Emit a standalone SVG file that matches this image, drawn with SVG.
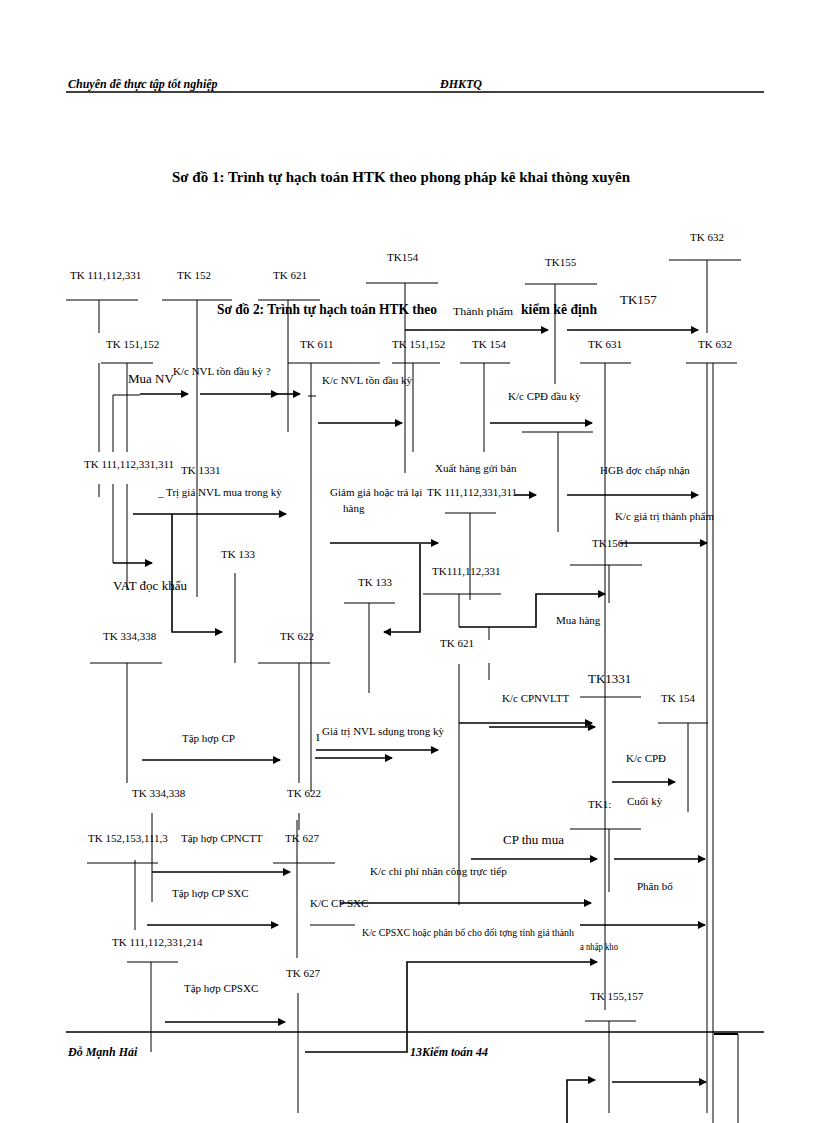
<svg xmlns="http://www.w3.org/2000/svg" width="816" height="1123" viewBox="0 0 816 1123">
<style>
text{font-family:"Liberation Serif",serif;font-size:11px;fill:#000}
.b{font-weight:bold;font-size:15px}
.h{font-style:italic;font-weight:bold;font-size:12px}
.l{font-size:13px}
line,polyline{stroke:#000;stroke-width:1;fill:none}
.a{stroke-width:1.6;marker-end:url(#ar)}
</style>
<defs><marker id="ar" markerWidth="8" markerHeight="8" refX="7" refY="4" orient="auto" markerUnits="userSpaceOnUse"><path d="M0,0 L8,4 L0,8 Z" fill="#000"/></marker></defs>
<rect width="816" height="1123" fill="#fff"/>
<g id="header">
<text x="68" y="88" class="h">Chuyên đề thực tập tốt nghiệp</text>
<text x="440" y="88" class="h">ĐHKTQ</text>
<line x1="66" y1="92" x2="764" y2="92" style="stroke-width:1.5"/>
<text x="172" y="182" class="b" textLength="458" lengthAdjust="spacingAndGlyphs">Sơ đồ 1: Trình tự hạch toán HTK theo phong   pháp kê khai thòng   xuyên</text>
<text x="217" y="314" class="b" textLength="220" lengthAdjust="spacingAndGlyphs">Sơ đồ 2: Trình tự hạch toán HTK theo</text>
<text x="521" y="314" class="b" textLength="76" lengthAdjust="spacingAndGlyphs">kiểm kê định</text>
</g>
<g id="footer">
<line x1="66" y1="1032" x2="764" y2="1032" style="stroke-width:1.5"/>
<text x="68" y="1056" class="h">Đỗ Mạnh Hải</text>
<text x="410" y="1056" class="h">13Kiểm toán 44</text>
</g>
<g id="accounts">
<g id="tk111a"><text x="70" y="279">TK 111,112,331</text><line x1="66" y1="300" x2="138" y2="300"/><line x1="99" y1="300" x2="99" y2="333"/></g>
<g id="tk152"><text x="177" y="279">TK 152</text><line x1="162" y1="300" x2="232" y2="300"/><line x1="197" y1="300" x2="197" y2="597"/></g>
<g id="tk621a"><text x="273" y="279">TK 621</text><line x1="258" y1="300" x2="320" y2="300"/><line x1="288" y1="300" x2="288" y2="432"/></g>
<g id="tk154a"><text x="387" y="261">TK154</text><line x1="366" y1="283" x2="438" y2="283"/><line x1="405" y1="283" x2="405" y2="473"/></g>
<g id="tk155"><text x="545" y="266">TK155</text><line x1="525" y1="284" x2="597" y2="284"/><line x1="555" y1="284" x2="555" y2="384"/></g>
<g id="tk157"><text x="620" y="304" class="l">TK157</text></g>
<g id="tk632a"><text x="690" y="241">TK 632</text><line x1="669" y1="260" x2="741" y2="260"/><line x1="707" y1="260" x2="707" y2="333"/></g>
<g id="tk151a"><text x="106" y="348">TK 151,152</text><line x1="101" y1="363" x2="153" y2="363"/><line x1="99" y1="363" x2="99" y2="452"/><line x1="127" y1="363" x2="127" y2="452"/></g>
<g id="tk611"><text x="300" y="348">TK 611</text><line x1="288" y1="363" x2="380" y2="363"/><line x1="311" y1="363" x2="311" y2="792"/></g>
<g id="tk151b"><text x="392" y="348">TK 151,152</text><line x1="392" y1="363" x2="440" y2="363"/><line x1="413" y1="363" x2="413" y2="452"/></g>
<g id="tk154b"><text x="472" y="348">TK 154</text><line x1="460" y1="363" x2="510" y2="363"/><line x1="484" y1="363" x2="484" y2="452"/></g>
<g id="tk157b"><line x1="522" y1="432" x2="593" y2="432"/><line x1="558" y1="432" x2="558" y2="532"/></g>
<g id="tk631"><text x="588" y="348">TK 631</text><line x1="580" y1="363" x2="631" y2="363"/><line x1="605" y1="363" x2="605" y2="1010"/></g>
<g id="tk632b"><text x="698" y="348">TK 632</text><line x1="686" y1="363" x2="737" y2="363"/><line x1="707" y1="363" x2="707" y2="1113"/><line x1="713" y1="363" x2="713" y2="1123"/></g>
<g id="tk111b"><text x="84" y="468">TK 111,112,331,311</text><line x1="99" y1="484" x2="99" y2="497"/><line x1="113" y1="484" x2="113" y2="563"/><line x1="127" y1="484" x2="127" y2="590"/></g>
<g id="tk1331a"><text x="181" y="474">TK 1331</text></g>
<g id="tk133a"><text x="221" y="558">TK 133</text><line x1="235" y1="573" x2="235" y2="663"/></g>
<g id="tk111c"><text x="427" y="496">TK 111,112,331,311</text><line x1="445" y1="513" x2="496" y2="513"/><line x1="470" y1="513" x2="470" y2="600"/></g>
<g id="tk1561"><text x="592" y="547">TK1561</text><line x1="570" y1="565" x2="642" y2="565"/><line x1="609" y1="565" x2="609" y2="603"/></g>
<g id="tk133b"><text x="358" y="586">TK 133</text><line x1="344" y1="603" x2="395" y2="603"/><line x1="369" y1="603" x2="369" y2="693"/></g>
<g id="tk111d"><text x="432" y="575">TK111,112,331</text><line x1="423" y1="594" x2="501" y2="594"/><line x1="459" y1="594" x2="459" y2="627"/></g>
<g id="tk621b"><text x="440" y="647">TK 621</text><line x1="459" y1="664" x2="459" y2="905"/><line x1="489" y1="627" x2="489" y2="640"/><line x1="489" y1="663" x2="489" y2="680"/></g>
<g id="tk1331b"><text x="588" y="683" class="l">TK1331</text><line x1="580" y1="697" x2="641" y2="697"/></g>
<g id="tk154c"><text x="661" y="702">TK 154</text><line x1="658" y1="723" x2="708" y2="723"/><line x1="688" y1="723" x2="688" y2="812"/></g>
<g id="tk1x"><text x="588" y="808">TK1:</text><line x1="570" y1="829" x2="641" y2="829"/><line x1="609" y1="829" x2="609" y2="892"/></g>
<g id="tk334a"><text x="103" y="640">TK 334,338</text><line x1="90" y1="663" x2="162" y2="663"/><line x1="127" y1="663" x2="127" y2="783"/></g>
<g id="tk622a"><text x="280" y="640">TK 622</text><line x1="258" y1="663" x2="330" y2="663"/><line x1="299" y1="663" x2="299" y2="783"/></g>
<g id="tk334b"><text x="132" y="797">TK 334,338</text><line x1="152" y1="813" x2="152" y2="830"/></g>
<g id="tk622b"><text x="287" y="797">TK 622</text><line x1="299" y1="813" x2="299" y2="830"/></g>
<g id="tk152c"><text x="88" y="842">TK 152,153,111,3</text><line x1="87" y1="863" x2="158" y2="863"/><line x1="135" y1="860" x2="135" y2="930"/><line x1="152" y1="830" x2="152" y2="902"/></g>
<g id="tk627a"><text x="285" y="842">TK 627</text><line x1="273" y1="863" x2="335" y2="863"/><line x1="297" y1="820" x2="297" y2="958"/></g>
<g id="tk111e"><text x="112" y="946">TK 111,112,331,214</text><line x1="127" y1="962" x2="178" y2="962"/><line x1="151" y1="962" x2="151" y2="1052"/></g>
<g id="tk627b"><text x="286" y="977">TK 627</text><line x1="298" y1="993" x2="298" y2="1113"/></g>
<g id="tk155157"><text x="590" y="1000">TK 155,157</text><line x1="585" y1="1021" x2="636" y2="1021"/><line x1="609" y1="1021" x2="609" y2="1113"/></g>
<g id="tkright"><line x1="738" y1="1034" x2="738" y2="1123"/><line x1="714" y1="1034" x2="738" y2="1034" style="stroke-width:2"/></g>
</g>
<g id="connectors">
<polyline class="a" points="405,330 548,330"/>
<line class="a" x1="567" y1="330" x2="698" y2="330"/>
<line class="a" x1="140" y1="394" x2="188" y2="394"/>
<line class="a" x1="200" y1="394" x2="278" y2="394"/>
<line class="a" x1="278" y1="394" x2="300" y2="394"/>
<polyline points="113,452 113,395 140,395"/>
<line x1="308" y1="396" x2="316" y2="396"/>
<line class="a" x1="318" y1="423" x2="402" y2="423"/>
<line class="a" x1="490" y1="423" x2="592" y2="423"/>
<line class="a" x1="133" y1="514" x2="286" y2="514"/>
<polyline class="a" points="172,514 172,632 222,632"/>
<line class="a" x1="113" y1="563" x2="152" y2="563"/>
<line class="a" x1="330" y1="543" x2="438" y2="543"/>
<line class="a" x1="515" y1="495" x2="536" y2="495"/>
<line class="a" x1="567" y1="495" x2="698" y2="495"/>
<line class="a" x1="620" y1="543" x2="707" y2="543"/>
<polyline class="a" points="420,544 420,632 384,632"/>
<polyline class="a" points="459,627 536,627 536,594 605,594"/>
<line class="a" x1="459" y1="723" x2="592" y2="723"/>
<line class="a" x1="489" y1="727" x2="595" y2="727"/>
<line class="a" x1="612" y1="782" x2="675" y2="782"/>
<line class="a" x1="142" y1="760" x2="280" y2="760"/>
<line class="a" x1="316" y1="750" x2="438" y2="750"/>
<line class="a" x1="315" y1="758" x2="392" y2="758"/>
<line class="a" x1="152" y1="872" x2="290" y2="872"/>
<line class="a" x1="471" y1="859" x2="597" y2="859"/>
<line class="a" x1="614" y1="859" x2="705" y2="859"/>
<line class="a" x1="147" y1="925" x2="278" y2="925"/>
<line class="a" x1="340" y1="903" x2="591" y2="903"/>
<line x1="310" y1="925" x2="355" y2="925"/>
<line class="a" x1="580" y1="925" x2="705" y2="925"/>
<line class="a" x1="165" y1="1022" x2="285" y2="1022"/>
<polyline class="a" points="305,1052 407,1052 407,962 597,962"/>
<polyline class="a" points="567,1123 567,1080 595,1080"/>
<line class="a" x1="612" y1="1082" x2="706" y2="1082"/>
</g>
<g id="labels">
<text x="453" y="315" textLength="60" lengthAdjust="spacingAndGlyphs">Thành phẩm</text>
<text x="128" y="383" class="l">Mua NV</text>
<text x="173" y="375">K/c NVL tồn đầu kỳ  ?</text>
<text x="322" y="384">K/c NVL tồn đầu kỳ</text>
<text x="508" y="400">K/c CPĐ đầu kỳ</text>
<text x="158" y="496">_ Trị giá NVL mua trong kỳ</text>
<text x="113" y="590" class="l">VAT đọc   khấu</text>
<text x="330" y="496">Giảm giá hoặc trả lại</text>
<text x="343" y="512">hàng</text>
<text x="435" y="472">Xuất hàng gửi bán</text>
<text x="600" y="474">HGB đợc  chấp nhận</text>
<text x="615" y="520">K/c giá trị thành phẩm</text>
<text x="556" y="624">Mua hàng</text>
<text x="502" y="702">K/c CPNVLTT</text>
<text x="626" y="762">K/c CPĐ</text>
<text x="627" y="805">Cuối kỳ</text>
<text x="182" y="742">Tập hợp CP</text>
<text x="316" y="741">I</text>
<text x="322" y="735">Giá trị NVL sdụng trong kỳ</text>
<text x="181" y="842">Tập hợp CPNCTT</text>
<text x="503" y="844" class="l">CP thu mua</text>
<text x="370" y="875">K/c chi phí nhân công trực tiếp</text>
<text x="637" y="890">Phân bổ</text>
<text x="172" y="897">Tập hợp CP SXC</text>
<text x="310" y="907">K/C CP SXC</text>
<text x="362" y="936" textLength="212" lengthAdjust="spacingAndGlyphs">K/c CPSXC hoặc phân bổ cho đối tợng   tính giá thành</text>
<text x="580" y="950" textLength="38" lengthAdjust="spacingAndGlyphs">a nhập kho</text>
<text x="184" y="992">Tập hợp CPSXC</text>
</g>
</svg>
